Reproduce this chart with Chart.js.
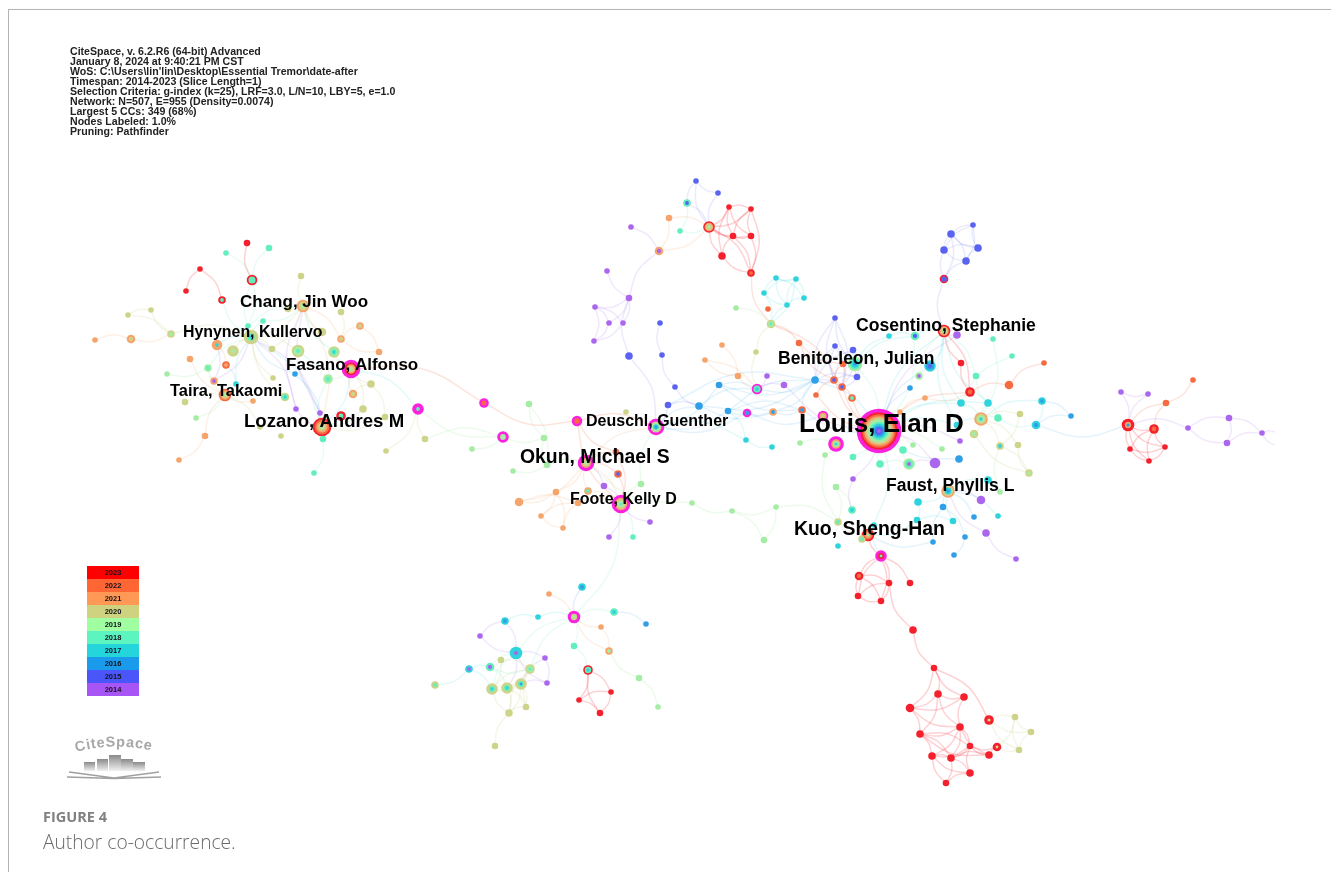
<!DOCTYPE html>
<html>
<head>
<meta charset="utf-8">
<title>Author co-occurrence</title>
<script src="https://cdn.jsdelivr.net/npm/chart.js@4"></script>
<style>
  html, body { margin: 0; background: #fff; overflow: hidden; }
  #page { position: relative; width: 1331px; height: 872px; font-family: "Liberation Sans", Arial, sans-serif; }
  #frame { position: absolute; left: 8px; top: 9px; right: -5px; bottom: -5px; border: 1px solid #b4b4b4; }
  #myChart { position: absolute; left: 0; top: 0; filter: blur(0.45px); }
  #info { position: absolute; left: 70px; top: 47px; font-size: 10.6px; line-height: 9.95px; font-weight: bold; color: #222; white-space: pre; filter: blur(0.3px); }
  #yearKey { position: absolute; left: 87px; top: 566px; width: 52px; filter: blur(0.3px); }
  #yearKey div { height: 13px; line-height: 14px; font-size: 7.5px; font-weight: bold; text-align: center; color: #14141e; }
  #logo { position: absolute; left: 60px; top: 732px; }
  #figNo { position: absolute; left: 43px; top: 807px; font: bold 14.5px "Open Sans", sans-serif; color: #808080; }
  #figText { position: absolute; left: 43px; top: 828px; font: 300 19.2px "Open Sans", sans-serif; color: #6a6a6a; }
</style>
</head>
<body>
<div id="page">
  <div id="frame"></div>
  <canvas id="myChart" width="1331" height="872"></canvas>
  <div id="info"></div>
  <div id="yearKey"></div>
  <svg id="logo" width="110" height="52" viewBox="0 0 110 52">
    <defs>
      <linearGradient id="barFade" x1="0" y1="0" x2="0" y2="1">
        <stop offset="0" stop-color="#8a8a8a"/><stop offset="1" stop-color="#f0f0f0"/>
      </linearGradient>
      <path id="logoArc" d="M16 20 Q 56 9 97 20"/>
    </defs>
    <text font-family="Liberation Sans" font-weight="bold" font-size="14.5" fill="#a8a8a8" letter-spacing="0.7"><textPath href="#logoArc">CiteSpace</textPath></text>
    <rect x="24" y="30" width="11" height="9" fill="url(#barFade)"/>
    <rect x="37" y="27" width="11" height="12" fill="url(#barFade)"/>
    <rect x="49" y="23" width="12" height="16" fill="url(#barFade)"/>
    <rect x="61" y="27" width="12" height="12" fill="url(#barFade)"/>
    <rect x="73" y="30" width="12" height="9" fill="url(#barFade)"/>
    <path d="M9 40 L54 46 L99 40 M7 45 L54 46.5 L101 45" stroke="#a0a0a0" stroke-width="1.4" fill="none"/>
  </svg>
  <div id="figNo">FIGURE 4</div>
  <div id="figText">Author co-occurrence.</div>
</div>
<script>
const infoLines = [
  'CiteSpace, v. 6.2.R6 (64-bit) Advanced',
  'January 8, 2024 at 9:40:21 PM CST',
  "WoS: C:\\Users\\lin'lin\\Desktop\\Essential Tremor\\date-after",
  'Timespan: 2014-2023 (Slice Length=1)',
  'Selection Criteria: g-index (k=25), LRF=3.0, L/N=10, LBY=5, e=1.0',
  'Network: N=507, E=955 (Density=0.0074)',
  'Largest 5 CCs: 349 (68%)',
  'Nodes Labeled: 1.0%',
  'Pruning: Pathfinder'
];
const keyYears = ['2023','2022','2021','2020','2019','2018','2017','2016','2015','2014'];
const keyColors = ['#ff0000','#ff6633','#ff9955','#cfd37f','#a0ffa0','#5cf5c0','#25d5dc','#1a9aea','#4a55fa','#a855f5'];

// last digit of the year => colour of the ring, m = burst ring
const ringColors = { 3:'#f4202c', 2:'#f56a40', 1:'#f5a46c', 0:'#cdd48a', 9:'#a5eca5', 8:'#62eebd',
  7:'#2fd3dc', 6:'#2f9fe8', 5:'#5a63f0', 4:'#ab66ee', m:'#fb22de' };
const edgeColors = { 3:'rgba(244,32,44,.2)', 2:'rgba(245,106,64,.18)', 1:'rgba(245,164,108,.17)',
  0:'rgba(205,212,138,.2)', 9:'rgba(165,236,165,.2)', 8:'rgba(98,238,189,.15)', 7:'rgba(47,211,220,.14)',
  6:'rgba(47,159,232,.13)', 5:'rgba(90,99,240,.13)', 4:'rgba(171,102,238,.15)' };

// nodes: x, y, weight, rings from outside to centre
const leftNodes = [
  [247,243,3,'3'],[269,248,3,'8'],[226,253,2.5,'8'],[252,280,5,'388'],[301,276,3,'0'],
  [200,269,2.5,'3'],[186,291,2.5,'3'],[222,300,3.5,'38'],[303,306,6,'109'],[288,309,3,'0'],
  [341,312,3,'0'],[128,315,2.5,'0'],[151,310,2.5,'0'],[248,326,2.5,'8'],[263,321,2.5,'8'],
  [360,326,3.5,'10'],[171,334,3.5,'09'],[95,340,2.5,'1'],[131,339,4,'10'],[251,337,7,'0087'],
  [322,332,4,'0'],[341,339,3.5,'10'],[217,345,5,'117'],[233,351,5.5,'009'],[298,351,6,'098'],
  [272,349,3,'0'],[334,352,5.5,'0987'],[379,352,3,'1'],[190,359,3,'1'],[226,365,3.5,'21'],
  [208,368,3.5,'98'],[351,369,9,'mm3109'],[295,374,2.5,'6'],[167,374,2.5,'9'],[328,379,4.5,'98'],
  [273,378,2.5,'0'],[214,381,3.5,'14'],[371,384,3.5,'0'],[236,384,2.5,'7'],[225,395,6,'2109'],
  [353,394,4,'10'],[285,397,4,'087'],[185,402,3,'0'],[253,401,2.5,'1'],[296,409,2.5,'4'],
  [320,413,2.5,'4'],[363,409,3.5,'0'],[341,416,4.5,'38'],[418,409,5.5,'mm8'],[385,417,3,'0'],
  [196,418,2.5,'9'],[322,427,9,'32109'],[260,427,2.5,'0'],[205,436,3,'1'],[281,436,2.5,'0'],
  [323,439,3,'8'],[425,439,3,'0'],[386,451,2.5,'0'],[179,460,2.5,'1'],[314,473,2.5,'8']
];
const leftEdges = {
  3: [[0,3],[5,7],[5,6]],
  8: [[1,3],[2,3],[3,13],[3,19],[7,19],[19,14],[8,14],[8,13],[19,30],[34,51],[55,51],[59,55],[47,51]],
  0: [[4,8],[8,9],[8,19],[8,25],[10,21],[20,8],[11,16],[12,16],[11,12],[16,19],[23,19],[19,24],[19,25],[19,35],
      [26,31],[37,31],[31,46],[46,51],[49,51],[49,37],[37,40],[56,48],[57,48],[52,39],[42,39],[41,19]],
  1: [[15,21],[15,27],[21,27],[8,21],[17,18],[18,16],[28,39],[22,29],[53,39],[58,53],[43,39],[40,31],[8,51]],
  9: [[33,30],[30,39],[50,39],[34,31]],
  7: [[22,19],[38,29],[19,51],[26,8],[31,48],[31,24],[31,51],[19,38]],
  6: [[32,51],[32,19]],
  4: [[44,19],[45,19],[45,51],[44,51],[44,8],[45,8],[36,19],[36,22]]
};

const centreNodes = [
  [484,403,4.5,'m2'],[529,404,3,'9'],[503,437,5.5,'m9'],[577,421,5,'m2'],[626,412,2.5,'0'],
  [656,427,8,'mm0976'],[668,405,3,'5'],[675,387,2.5,'5'],[699,406,3.5,'6'],[719,385,3,'6'],
  [728,411,3,'6'],[544,438,3,'9'],[472,449,2.5,'9'],[616,452,3,'2'],[586,463,8,'mm109'],
  [547,465,3,'9'],[513,471,2.5,'9'],[618,474,3.5,'25'],[641,484,3,'9'],[604,486,3,'4'],
  [556,492,3,'1'],[588,491,3.5,'18'],[519,502,4,'1'],[578,503,3,'1'],[621,504,9,'mm1098'],
  [692,503,2.5,'9'],[541,516,2.5,'1'],[650,522,2.5,'4'],[563,528,2.5,'1'],[609,537,2.5,'4'],
  [633,537,2.5,'8'],[764,540,3,'9'],[776,507,2.5,'9'],[732,511,2.5,'9']
];
const centreEdges = {
  2: [[0,3],[3,5],[3,13],[13,14],[13,24],[17,24],[17,14],[3,24]],
  9: [[1,11],[11,15],[2,11],[2,12],[15,16],[15,14],[18,24],[18,5],[14,25],[25,33],[33,31],[33,32],[32,31],[1,15]],
  1: [[14,20],[14,21],[14,22],[20,22],[20,26],[20,28],[22,23],[23,24],[26,23],[28,23],[26,28],[14,24],[21,24],[5,14]],
  4: [[14,19],[19,24],[24,27],[24,29]],
  8: [[24,30]],
  6: [[5,8],[5,9],[5,10]],
  5: [[5,6],[6,8],[7,8]]
};

const bottomNodes = [
  [582,587,3.5,'76'],[549,594,2.5,'1'],[574,617,6,'mm09'],[538,617,2.5,'7'],[614,612,3.5,'87'],
  [646,624,2.5,'6'],[505,621,3.5,'76'],[601,627,2.5,'1'],[480,636,2.5,'4'],[516,653,6,'774'],
  [574,646,3,'8'],[609,651,3.5,'19'],[545,658,2.5,'4'],[501,660,3,'0'],[469,669,3.5,'74'],
  [490,667,4,'84'],[530,669,4.5,'098'],[588,670,4.5,'387'],[639,678,3,'9'],[547,683,2.5,'4'],
  [521,684,5.5,'0086'],[492,689,5.5,'0087'],[507,688,5.5,'0087'],[435,685,3.5,'08'],[611,692,2.5,'3'],
  [579,700,2.5,'3'],[526,707,3,'0'],[509,713,3.5,'0'],[600,713,3,'3'],[658,707,2.5,'9'],[495,746,3,'0']
];
const bottomEdges = {
  5: [[0,2]],
  8: [[2,4],[2,9],[2,16],[2,10],[10,17],[9,15],[9,21],[15,16],[15,22]],
  6: [[4,5]],
  1: [[1,2],[2,7],[7,11],[2,11]],
  7: [[2,3],[3,6],[14,15],[14,23],[14,21]],
  4: [[6,8],[6,9],[8,9],[9,12],[9,19],[12,19],[12,20],[19,20],[9,22]],
  9: [[11,18],[18,29]],
  3: [[17,25],[17,24],[17,28],[24,25],[24,28],[25,28]],
  0: [[13,15],[13,16],[13,21],[16,21],[16,22],[20,21],[20,22],[21,22],[21,27],[22,26],[22,27],[20,26],[20,27],[16,26],[27,30],[26,27],[16,27]]
};

const lowerNodes = [
  [881,556,5.5,'mm38'],[859,576,4,'32'],[889,583,3,'3'],[910,583,3,'3'],[858,596,3,'3'],
  [881,601,3,'3'],[913,630,3.5,'3'],[934,668,3,'3'],[938,694,3.5,'3'],[964,697,3.5,'3'],
  [910,708,4,'3'],[989,720,4.5,'330'],[1015,717,3,'0'],[960,727,3.5,'3'],[1031,732,3,'0'],
  [920,734,3.5,'3'],[970,746,3,'3'],[997,747,4,'330'],[1019,750,3,'0'],[932,756,3.5,'3'],
  [951,758,3.5,'3'],[989,755,3.5,'3'],[970,773,3.5,'3'],[946,783,3,'3']
];
const lowerEdges = {
  3: [[0,1],[0,2],[0,3],[0,4],[0,5],[1,2],[1,4],[1,5],[2,4],[2,5],[4,5],[2,6],[6,7],[7,8],[7,9],[7,10],[7,11],
      [8,9],[8,10],[8,13],[8,15],[9,13],[9,10],[10,13],[10,15],[13,15],[13,16],[13,19],[13,20],[13,21],[15,16],
      [15,19],[15,20],[15,21],[16,19],[16,20],[16,17],[16,21],[16,22],[19,20],[19,22],[19,23],[20,22],[20,23],[22,23],[21,17],[20,21]],
  0: [[11,12],[11,14],[11,18],[12,14],[12,17],[14,18],[17,18],[12,18]]
};

const topNodes = [
  [696,181,2.5,'5'],[718,193,2.5,'5'],[687,203,3.5,'85'],[729,207,2.5,'3'],[751,209,2.5,'3'],
  [669,218,3,'1'],[631,227,2.5,'4'],[709,227,5.5,'3109'],[680,231,2.5,'8'],[733,236,3,'3'],
  [751,236,3,'3'],[659,251,4,'14'],[722,256,3.5,'3'],[751,273,3.5,'32'],[607,271,2.5,'4'],
  [629,298,3,'4'],[776,278,2.5,'7'],[796,279,2.5,'7'],[764,293,2.5,'7'],[804,298,2.5,'7'],
  [787,305,2.5,'7'],[768,309,2.5,'2'],[736,308,2.5,'9'],[595,307,2.5,'4'],[609,323,2.5,'4'],
  [623,323,2.5,'4'],[660,323,2.5,'5'],[771,324,4,'098'],[594,341,2.5,'4'],[799,343,3,'2'],
  [756,352,2.5,'0'],[722,345,2.5,'1'],[662,355,2.5,'5'],[629,356,3.5,'5'],[705,360,2.5,'1'],
  [738,376,3,'1'],[767,376,2.5,'4']
];
const topEdges = {
  5: [[0,1],[0,2],[1,7],[2,7],[0,7],[26,32],[15,33]],
  8: [[2,8],[8,7]],
  1: [[5,7],[5,11],[7,11],[31,35],[34,35]],
  3: [[3,4],[3,7],[3,9],[3,10],[4,7],[4,9],[4,10],[7,9],[7,10],[7,12],[7,13],[9,10],[9,12],[9,13],[10,13],[12,13],[4,13],[3,12]],
  2: [[13,27],[27,29]],
  4: [[6,11],[11,15],[14,15],[15,23],[15,24],[15,25],[23,24],[23,28],[24,28],[25,28],[23,25]],
  7: [[16,17],[16,18],[16,20],[17,18],[17,19],[17,20],[18,20],[18,27],[19,20],[20,27],[17,27],[16,19]],
  9: [[22,27]],
  0: [[27,30]]
};

const mainNodes = [
  [889,336,2.5,'7'],[915,336,4,'85'],[944,331,6,'3108'],[957,335,3.5,'4'],[993,339,2.5,'8'],
  [835,318,2.5,'5'],[835,346,2.5,'5'],[853,350,3,'5'],[843,364,3,'2'],[855,364,7,'9876'],
  [930,366,5.5,'765'],[1012,356,2.5,'8'],[961,363,3,'3'],[1044,363,2.5,'2'],[815,380,3.5,'6'],
  [834,380,3.5,'25'],[857,377,3,'5'],[919,376,3.5,'94'],[976,376,3,'8'],[757,389,5,'m87'],
  [784,385,3,'4'],[842,387,3.5,'25'],[910,388,2.5,'6'],[1009,385,4,'2'],[816,395,2.5,'2'],
  [970,392,4.5,'32'],[852,398,3.5,'28'],[925,398,2.5,'1'],[961,403,3.5,'7'],[988,403,3.5,'7'],
  [1042,401,3.5,'76'],[747,413,4,'m6'],[773,412,3.5,'16'],[802,410,3.5,'26'],[823,416,5,'m10'],
  [900,412,2.5,'1'],[879,431,22,'mm3210987654'],[981,419,6.5,'1097'],[998,418,3.5,'8'],[1020,414,3,'0'],
  [1071,416,2.5,'6'],[1036,425,4,'76'],[957,425,3,'7'],[974,434,4,'09'],[746,440,2.5,'7'],
  [772,447,2.5,'7'],[836,444,7.5,'mm197'],[800,443,2.5,'9'],[960,441,2.5,'4'],[913,445,2.5,'9'],
  [942,449,2.5,'9'],[1000,446,3.5,'07'],[1018,445,3,'0'],[903,450,3.5,'8'],[825,455,2.5,'9'],
  [853,457,3,'8'],[880,464,3.5,'8'],[909,464,5.5,'984'],[935,463,5,'4'],[959,459,3.5,'6'],
  [1029,473,3.5,'09'],[853,479,2.5,'4'],[836,487,3,'9'],[988,480,3.5,'7'],[948,491,6.5,'1076'],
  [1000,492,2.5,'9'],[981,500,4,'4'],[918,502,3.5,'7'],[943,507,3,'6'],[852,510,3.5,'87'],
  [953,521,3,'7'],[974,517,2.5,'6'],[998,516,2.5,'7'],[917,520,3,'7'],[838,522,3.5,'08'],
  [986,533,3.5,'4'],[874,525,2.5,'7'],[868,535,6,'3219'],[862,539,3.5,'08'],[838,546,2.5,'7'],
  [933,542,2.5,'6'],[965,537,2.5,'6'],[954,555,2.5,'6'],[1016,559,2.5,'4']
];
const mainEdges = {
  5: [[5,9],[5,14],[6,14],[6,21],[7,14],[7,21],[16,14],[16,21],[5,21],[6,16],[14,21],[7,15],[6,15],[14,15],[7,16],[16,15],[5,15]],
  2: [[8,15],[8,21],[15,24],[21,26],[13,23],[23,25],[15,36],[21,36],[26,36],[24,36],[15,21],[25,36]],
  8: [[36,56],[36,53],[9,36],[36,55],[57,56],[53,57],[11,28],[18,29],[18,2],[4,37],[38,37],[38,41],[38,29],[1,36]],
  7: [[1,0],[0,9],[1,9],[1,2],[36,28],[36,29],[36,42],[36,76],[76,77],[64,67],[64,70],[64,72],[67,73],[70,73],[73,77],
      [42,37],[28,37],[29,37],[2,28],[2,29],[2,42],[41,30],[30,37],[2,36],[10,2],[64,63],[63,65],[44,45]],
  6: [[30,40],[41,40],[64,68],[68,80],[68,81],[81,82],[71,64],[80,77],[14,33],[33,32],[32,31],[31,34],[14,36],[33,36],[10,36],[22,36],[59,36]],
  4: [[64,66],[64,75],[75,83],[36,48],[36,58],[57,58],[36,3],[2,3],[36,61],[61,69],[36,20],[19,20]],
  9: [[46,47],[54,46],[54,74],[62,69],[62,74],[36,49],[36,50],[17,2],[65,51]],
  0: [[43,37],[43,60],[51,37],[52,37],[52,60],[39,37],[39,51],[60,51],[74,77],[78,77]],
  3: [[12,2],[12,25],[2,25]],
  1: [[36,35],[35,27],[27,25]]
};

const rightNodes = [
  [1121,392,2.5,'4'],[1148,394,2.5,'4'],[1193,380,2.5,'2'],[1166,403,3,'2'],[1128,425,6,'3316'],
  [1154,429,4.5,'32'],[1188,428,2.5,'4'],[1229,418,3,'4'],[1227,443,3,'4'],[1262,433,2.5,'4'],
  [1130,449,2.5,'3'],[1165,447,2.5,'3'],[1149,461,2.5,'3'],[1275,432,0,''],[1275,445,0,'']
];
const rightEdges = {
  4: [[0,1],[0,4],[1,4],[4,6],[6,7],[6,8],[7,8],[7,9],[8,9],[9,13],[9,14]],
  2: [[2,3],[3,4],[3,5]],
  3: [[4,5],[4,10],[4,11],[4,12],[5,10],[5,11],[5,12],[10,12],[11,12],[10,11]]
};

const upperNodes = [
  [973,225,2.5,'5'],[951,234,3.5,'5'],[944,250,3.5,'5'],[978,248,3.5,'5'],[966,261,3.5,'5'],[944,279,4,'355']
];
const upperEdges = {
  5: [[0,1],[0,2],[0,3],[0,4],[1,2],[1,3],[1,5],[1,4],[2,3],[2,4],[2,5],[3,4],[4,5]]
};

// links between the groups above
const bridgeEdges = [
  ['L31','C0','2'],['L48','C2','9'],['L56','C2','9'],['C24','B2','8'],['T33','C5','5'],['T32','C7','5'],
  ['C8','M14','6'],['C9','M14','6'],['C10','M14','6'],['M19','M14','6'],['C8','M19','6'],['C9','M19','6'],
  ['C10','M31','6'],['C5','M31','6'],['C10','M33','6'],['C9','M33','6'],['C8','M32','6'],['M32','M14','6'],
  ['T27','M21','2'],['T29','M15','2'],['T30','M19','0'],['T35','M19','1'],['T36','M19','4'],['M44','C10','7'],
  ['C32','M74','9'],['R0','M77','3'],['R0','M76','7'],['M41','X4','6'],['U5','M2','5'],['T29','M8','2'],
  ['C5','M44','7'],['C6','M14','6'],['M19','T34','1']
];

const labelNames = ['Louis, Elan D','Lozano, Andres M','Chang, Jin Woo','Hynynen, Kullervo','Fasano, Alfonso','Taira, Takaomi','Deuschl, Guenther','Okun, Michael S','Foote, Kelly D','Cosentino, Stephanie','Benito-leon, Julian','Faust, Phyllis L','Kuo, Sheng-Han'];
const labelX = [799,244,240,183,286,170,586,520,570,856,778,886,794];
const labelY = [425,422,302,333,365,391,422,458,500,326,359,486,530];
const labelSizes = [26,18.6,17,15.9,17,16.4,16,19.4,16,17.6,17.5,17.5,19.4];

const groups = {
  L: [leftNodes, leftEdges], C: [centreNodes, centreEdges], B: [bottomNodes, bottomEdges], R: [lowerNodes, lowerEdges],
  T: [topNodes, topEdges], M: [mainNodes, mainEdges], X: [rightNodes, rightEdges], U: [upperNodes, upperEdges]
};

function graph() {
  document.getElementById('info').textContent = infoLines.join('\n');
  const key = document.getElementById('yearKey');
  keyYears.forEach((year, i) => {
    const row = document.createElement('div');
    row.textContent = year;
    row.style.background = keyColors[i];
    key.appendChild(row);
  });

  const datasets = [];
  const addEdge = (a, b, year) => {
    // curved link, bowed sideways through a middle point
    const dx = b[0] - a[0], dy = b[1] - a[1];
    const side = (Math.round(a[0] + b[1]) % 2) ? 0.13 : -0.13;
    datasets.push({
      type: 'scatter',
      showLine: true,
      order: 100,
      data: [{ x: a[0], y: a[1] }, { x: (a[0] + b[0]) / 2 - dy * side, y: (a[1] + b[1]) / 2 + dx * side }, { x: b[0], y: b[1] }],
      borderColor: edgeColors[year],
      borderWidth: 1.5,
      tension: 0.4,
      pointRadius: 0
    });
  };
  Object.values(groups).forEach(([nodes, edges]) => {
    Object.keys(edges).forEach(year => {
      edges[year].forEach(([a, b]) => addEdge(nodes[a], nodes[b], year));
    });
  });
  bridgeEdges.forEach(([a, b, year]) => {
    addEdge(groups[a[0]][0][+a.slice(1)], groups[b[0]][0][+b.slice(1)], year);
  });

  // one bubble dataset per ring depth, smaller rings on top
  const allNodes = Object.values(groups).flatMap(g => g[0]);
  const depth = Math.max(...allNodes.map(n => n[3].length));
  for (let d = 0; d < depth; d++) {
    const rows = allNodes.filter(n => n[3].length > d);
    datasets.push({
      type: 'bubble',
      order: 50 - d,
      data: rows.map(n => ({ x: n[0], y: n[1], r: (n[2] + 0.3) * (n[3].length - d) / n[3].length })),
      backgroundColor: rows.map(n => ringColors[n[3][d]]),
      borderWidth: 0
    });
  }

  const nodeLabels = {
    id: 'nodeLabels',
    afterDatasetsDraw(chart) {
      const ctx = chart.ctx;
      ctx.save();
      ctx.fillStyle = '#000';
      ctx.textBaseline = 'middle';
      labelNames.forEach((name, i) => {
        ctx.font = 'bold ' + labelSizes[i] + 'px "Liberation Sans"';
        ctx.fillText(name, chart.scales.x.getPixelForValue(labelX[i]), chart.scales.y.getPixelForValue(labelY[i]));
      });
      ctx.restore();
    }
  };

  new Chart(document.getElementById('myChart'), {
    data: { datasets },
    plugins: [nodeLabels],
    options: {
      responsive: false,
      animation: false,
      events: [],
      layout: { padding: 0, autoPadding: false },
      scales: {
        x: { type: 'linear', min: 0, max: 1331, display: false },
        y: { type: 'linear', min: 0, max: 872, reverse: true, display: false }
      },
      plugins: { legend: { display: false }, tooltip: { enabled: false } }
    }
  });
}

graph();
</script>
</body>
</html>
